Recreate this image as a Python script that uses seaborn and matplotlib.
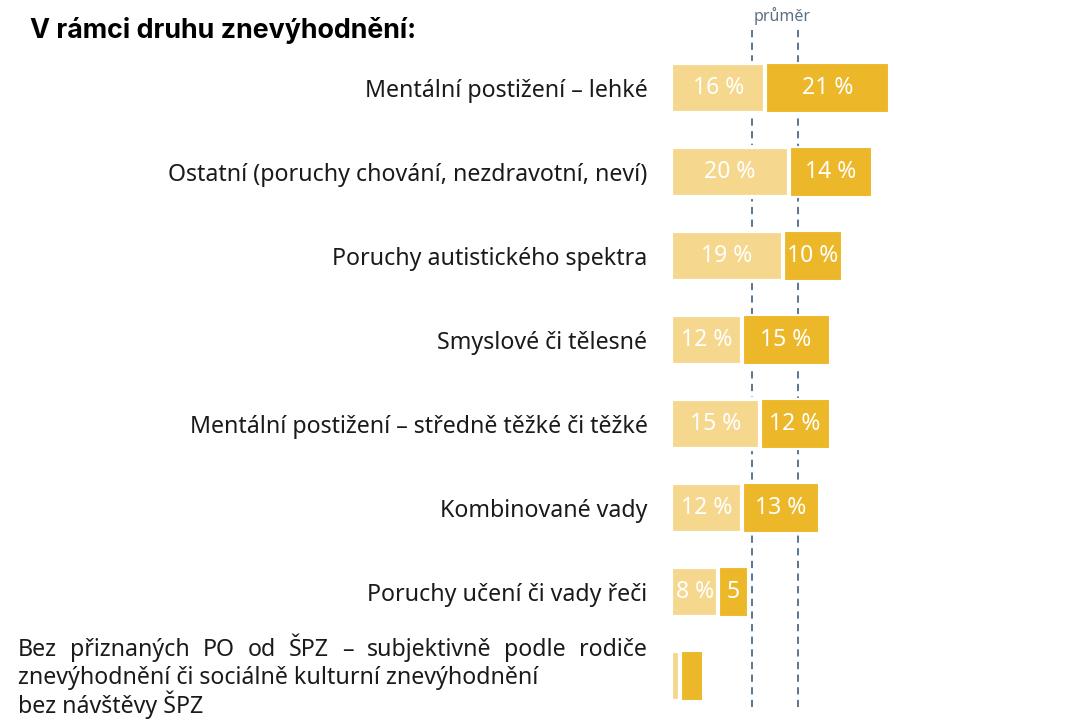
import matplotlib
matplotlib.use("Agg")
import matplotlib.pyplot as plt
import seaborn as sns
import pandas as pd

# Data
categories = [
    "Mentální postižení – lehké",
    "Ostatní (poruchy chování, nezdravotní, neví)",
    "Poruchy autistického spektra",
    "Smyslové či tělesné",
    "Mentální postižení – středně těžké či těžké",
    "Kombinované vady",
    "Poruchy učení či vady řeči",
    "Bez přiznaných PO od ŠPZ – subjektivně podle rodiče\nznevýhodnění či sociálně kulturní znevýhodnění\nbez návštěvy ŠPZ",
]
light_vals = [16, 20, 19, 12, 15, 12, 8, 1.5]
dark_vals = [21, 14, 10, 15, 12, 13, 5, 4]
light_labels = ["16 %", "20 %", "19 %", "12 %", "15 %", "12 %", "8 %", ""]
dark_labels = ["21 %", "14 %", "10 %", "15 %", "12 %", "13 %", "5", ""]
avg_lines = [13.7, 21.5]

LIGHT = "#F5D88E"
DARK = "#ECB829"
LINE = "#4d6b85"
PX = 5.9  # pixels per percent

df = pd.DataFrame({"cat": categories, "light": light_vals, "dark": dark_vals})
df["total"] = df["light"] + df["dark"]

sns.set_style("white")
plt.rcParams["font.family"] = ["Noto Sans", "DejaVu Sans"]

fig = plt.figure(figsize=(10.68, 7.21), dpi=100)
ax = fig.add_axes([671 / 1068, 3 / 721, 397 / 1068, 672 / 721])

# total bar (dark) underneath, light part on top
sns.barplot(data=df, x="total", y="cat", color=DARK, saturation=1, width=0.6,
            edgecolor="white", linewidth=1.5, ax=ax)
sns.barplot(data=df, x="light", y="cat", color=LIGHT, saturation=1, width=0.6,
            edgecolor="white", linewidth=3, ax=ax)

ax.set_xlim(0, 397 / PX)
ax.set_ylim(7.5, -0.5)

for i in range(len(categories)):
    if light_labels[i]:
        ax.text(light_vals[i] / 2, i, light_labels[i], ha="center", va="center",
                color="white", fontsize=16.5)
    if dark_labels[i]:
        ax.text(light_vals[i] + dark_vals[i] / 2, i, dark_labels[i], ha="center",
                va="center", color="white", fontsize=16.5)

# average lines
for x in avg_lines:
    ax.plot([x, x], [-0.69, 7.37], color=LINE, linestyle=(0, (4, 3)),
            linewidth=1.3, clip_on=False, zorder=0)
ax.text((782 - 671) / PX, -0.86, "průměr", ha="center", va="center",
        color="#5c7185", fontsize=11.5)

ax.set_xlabel("")
ax.set_ylabel("")
ax.set_xticks([])
ax.set_yticks(range(len(categories)))
ax.set_yticklabels(categories[:-1] + [""], fontsize=16.7, color="#1a1a1a")
ax.tick_params(axis="y", length=0, pad=17)
sns.despine(ax=ax, left=True, bottom=True)

# last label: left aligned, first line justified to the tick label edge
renderer = fig.canvas.get_renderer()
lines = categories[-1].split("\n")
line_h = 28.5
base0 = 656
left, right = 18, 647
words = lines[0].split(" ")
widths = []
for w in words:
    t = fig.text(0, 0, w, fontsize=16.7)
    widths.append(t.get_window_extent(renderer).width)
    t.remove()
gap = (right - left - sum(widths)) / (len(words) - 1)
x = left
for w, wd in zip(words, widths):
    fig.text(x / 1068, 1 - base0 / 721, w, ha="left", va="baseline", fontsize=16.7,
             color="#1a1a1a")
    x += wd + gap
for k, line in enumerate(lines[1:], start=1):
    fig.text(left / 1068, 1 - (base0 + k * line_h) / 721, line, ha="left",
             va="baseline", fontsize=16.7, color="#1a1a1a")

fig.text(30 / 1068, 1 - 30 / 721, "V rámci druhu znevýhodnění:", ha="left",
         va="center", fontsize=19.3, fontweight="bold", family=["Inter", "DejaVu Sans"],
         color="black")

fig.savefig("out.png", dpi=100)
